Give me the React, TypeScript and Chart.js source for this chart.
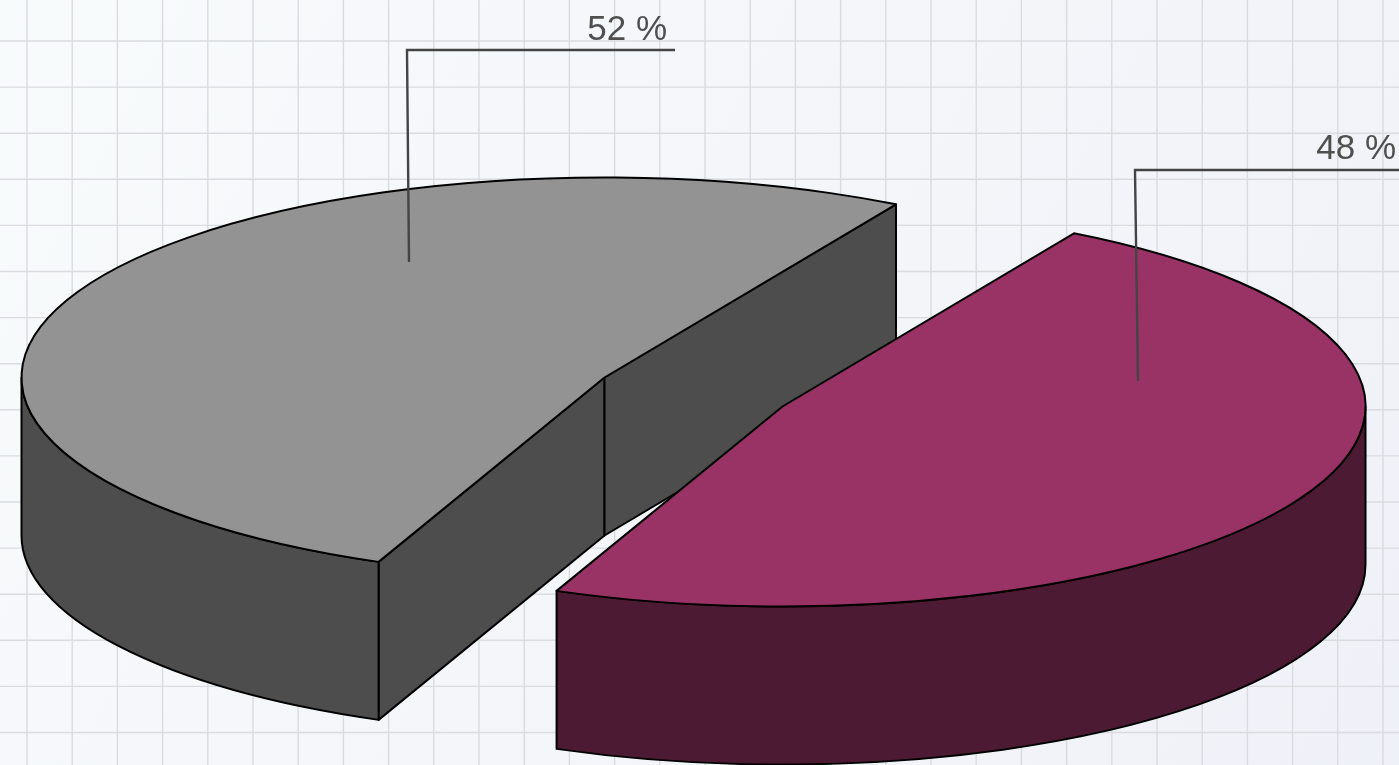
import React, { useEffect, useRef } from "react";
import { Chart, registerables } from "chart.js";

Chart.register(...registerables);

// ---- data ----
const categories = ["Segment A", "Segment B"];
const shareValues = [52, 48];
const labelSuffix = " %";

// ---- styling / layout ----
const topColors = ["#939393", "#993366"];
const wallColors = ["#4d4d4d", "#4d1a33"];
const START_ROTATION = 202.8;
const W = 1399;
const H = 765;
const RX = 583;
const RY = 200;
const DEPTH = 158;
const PIVOT = { x: 693.5, y: 391.5 };
const SHIFTS = [{ x: -89, y: -14 }, { x: 89, y: 15 }];
const LEADERS = [
  { from: [409, 262], elbow: [407, 50], end: [675, 50], textRight: 667, textBase: 40 },
  { from: [1138, 381], elbow: [1135, 170], end: [1399, 170], textRight: 1396, textBase: 159 },
];
const GRID_X0 = 27, GRID_DX = 45.2, GRID_Y0 = 41, GRID_DY = 46.1;

const pie3d = {
  id: "pie3d",
  beforeDraw(chart: any) {
    const ctx = chart.ctx;
    ctx.save();
    const g = ctx.createLinearGradient(0, 0, W, H);
    g.addColorStop(0, "#f8fbfb");
    g.addColorStop(1, "#eff1f8");
    ctx.fillStyle = g;
    ctx.fillRect(0, 0, W, H);
    ctx.strokeStyle = "#d9dbdf";
    ctx.lineWidth = 1.4;
    ctx.beginPath();
    for (let x = GRID_X0; x < W; x += GRID_DX) { ctx.moveTo(x, 0); ctx.lineTo(x, H); }
    for (let y = GRID_Y0 - GRID_DY; y < H; y += GRID_DY) { if (y > 0) { ctx.moveTo(0, y); ctx.lineTo(W, y); } }
    ctx.stroke();
    ctx.restore();
  },
  beforeDatasetsDraw(chart: any) {
    const ctx = chart.ctx;
    const arcs = chart.getDatasetMeta(0).data;
    arcs.forEach((arc: any, i: number) => {
      const { x, y, outerRadius: R, startAngle: a0, endAngle: a1 } = arc;
      const cx = PIVOT.x + SHIFTS[i].x;
      const cy = PIVOT.y + SHIFTS[i].y;
      const px = (t: number) => cx + RX * Math.cos(t);
      const py = (t: number) => cy + RY * Math.sin(t);
      ctx.save();
      ctx.lineJoin = "round";
      ctx.strokeStyle = "#000000";
      ctx.lineWidth = 2;
      ctx.fillStyle = wallColors[i];

      // radial cut faces that look towards the viewer
      const faces: number[] = [];
      if (Math.sin(a0 - Math.PI / 2) > 0) faces.push(a0);
      if (Math.sin(a1 + Math.PI / 2) > 0) faces.push(a1);
      faces.forEach((t) => {
        ctx.beginPath();
        ctx.moveTo(cx, cy);
        ctx.lineTo(px(t), py(t));
        ctx.lineTo(px(t), py(t) + DEPTH);
        ctx.lineTo(cx, cy + DEPTH);
        ctx.closePath();
        ctx.fill();
        ctx.stroke();
      });

      // outer wall: the part of the rim on the near half of the ellipse
      for (let k = 0; k < 3; k++) {
        const lo = Math.max(a0, k * 2 * Math.PI);
        const hi = Math.min(a1, k * 2 * Math.PI + Math.PI);
        if (hi <= lo) continue;
        ctx.beginPath();
        ctx.ellipse(cx, cy, RX, RY, 0, lo, hi, false);
        ctx.lineTo(px(hi), py(hi) + DEPTH);
        ctx.ellipse(cx, cy + DEPTH, RX, RY, 0, hi, lo, true);
        ctx.closePath();
        ctx.fill();
        ctx.stroke();
      }

      // top face: the library's own arc under an elliptical transform
      ctx.save();
      ctx.translate(cx, cy);
      ctx.scale(RX / R, RY / R);
      ctx.translate(-x, -y);
      arc.draw(ctx);
      ctx.restore();
      ctx.beginPath();
      ctx.moveTo(cx, cy);
      ctx.ellipse(cx, cy, RX, RY, 0, a0, a1, false);
      ctx.closePath();
      ctx.stroke();
      ctx.restore();
    });
    return false;
  },
  afterDraw(chart: any) {
    const ctx = chart.ctx;
    ctx.save();
    LEADERS.forEach((l, i) => {
      ctx.strokeStyle = "#444444";
      ctx.lineWidth = 2.4;
      ctx.beginPath();
      ctx.moveTo(l.from[0], l.from[1]);
      ctx.lineTo(l.elbow[0], l.elbow[1]);
      ctx.lineTo(l.end[0], l.end[1]);
      ctx.stroke();
      ctx.fillStyle = "#4f4f4f";
      ctx.font = '35px "Liberation Sans"';
      ctx.textAlign = "right";
      ctx.textBaseline = "alphabetic";
      ctx.fillText(`${shareValues[i]}${labelSuffix}`, l.textRight, l.textBase);
    });
    ctx.restore();
  },
};

export default function App() {
  const ref = useRef<HTMLCanvasElement | null>(null);
  useEffect(() => {
    const chart = new Chart(ref.current as HTMLCanvasElement, {
      type: "pie",
      data: {
        labels: categories,
        datasets: [{ data: shareValues, backgroundColor: topColors, borderWidth: 0 }],
      },
      options: {
        responsive: false,
        animation: false,
        devicePixelRatio: 1,
        rotation: START_ROTATION,
        layout: { padding: 0 },
        plugins: { legend: { display: false }, tooltip: { enabled: false } },
      },
      plugins: [pie3d],
    } as any);
    return () => chart.destroy();
  }, []);
  return (
    <div style={{ position: "fixed", left: 0, top: 0, width: W, height: H, overflow: "hidden", background: "#f4f6fa" }}>
      <canvas ref={ref} width={W} height={H} style={{ display: "block", width: W, height: H, filter: "blur(0.6px)" }} />
    </div>
  );
}
